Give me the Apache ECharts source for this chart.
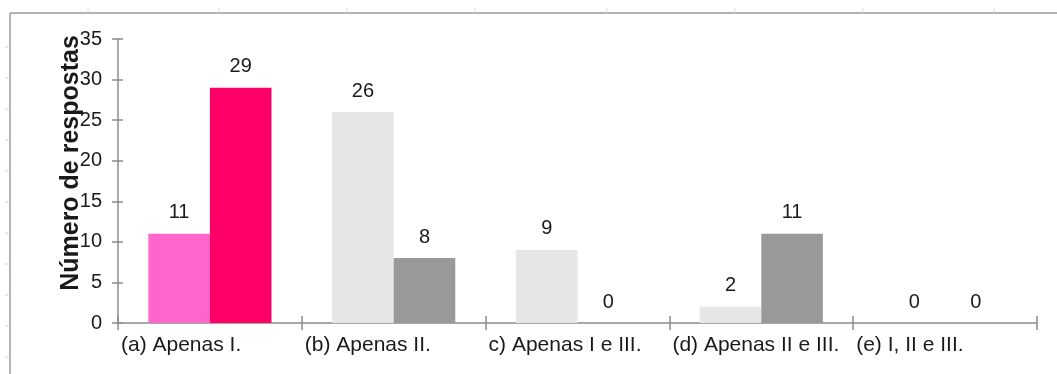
<!DOCTYPE html>
<html>
<head>
<meta charset="utf-8">
<script src="https://cdn.jsdelivr.net/npm/echarts@6/dist/echarts.min.js"></script>
<style>
  html, body { margin: 0; padding: 0; background: #fff; }
  #chart { width: 1057px; height: 374px; }
</style>
</head>
<body>
<div id="chart"></div>
<script>
// Categories (answer options) and counts for the two groups of respondents
const categories = ['(a) Apenas I.', '(b) Apenas II.', 'c) Apenas I e III.', '(d) Apenas II e III.', '(e) I, II e III.'];
const seriesA = [11, 26, 9, 2, 0];
const seriesB = [29, 8, 0, 11, 0];
const yTicks = [0, 5, 10, 15, 20, 25, 30, 35];
const yTitle = 'Número de respostas';

// Per-category fills: the correct option is highlighted in pink
const coloursA = ['#FF66CC', '#E6E6E6', '#E6E6E6', '#E6E6E6', '#E6E6E6'];
const coloursB = ['#FF0066', '#999999', '#999999', '#999999', '#999999'];

const FONT = '"Liberation Sans", Arial, sans-serif';
const TEXT = '#1a1a1a';
const AXIS = '#8c8c8c';

const chart = echarts.init(document.getElementById('chart'), null, { renderer: 'canvas' });

function items(values, colours) {
  return values.map((v, i) => ({ value: v, itemStyle: { color: colours[i] } }));
}

const labelStyle = {
  show: true, position: 'top', distance: 11,
  fontFamily: FONT, fontSize: 20, color: TEXT
};

// Faint ruler marks around the frame
const rulerMarks = [];
[88, 219, 347, 475, 607, 735, 863, 994].forEach(x => {
  rulerMarks.push({ type: 'line', shape: { x1: x, y1: 8, x2: x, y2: 13 }, style: { stroke: '#dedede', lineWidth: 1 } });
});
for (let y = 47; y < 374; y += 31) {
  rulerMarks.push({ type: 'line', shape: { x1: 5, y1: y, x2: 10, y2: y }, style: { stroke: '#d4d4d4', lineWidth: 1 } });
}

const option = {
  animation: false,
  backgroundColor: '#ffffff',
  grid: { left: 118, right: 20, top: 39, bottom: 51, containLabel: false },
  xAxis: [
    {
      type: 'category', data: categories, boundaryGap: true, position: 'bottom',
      axisLine: { lineStyle: { color: AXIS, width: 1.5 } },
      axisTick: { show: true, length: 7, alignWithLabel: false, lineStyle: { color: AXIS, width: 1.5 } },
      axisLabel: { show: false }
    },
    {
      // boundary-aligned axis carrying the left-aligned labels and inner tick halves
      type: 'category', data: categories.concat(['']), boundaryGap: false, position: 'bottom',
      axisLine: { show: false },
      axisTick: { show: true, inside: true, length: 7, lineStyle: { color: AXIS, width: 1.5 } },
      axisLabel: { show: true, interval: 0, align: 'left', margin: 12, padding: [0, 0, 0, 3],
                   fontFamily: FONT, fontSize: 21, color: TEXT }
    }
  ],
  yAxis: [
    {
      type: 'value', min: yTicks[0], max: yTicks[yTicks.length - 1], interval: 5,
      axisLine: { show: true, lineStyle: { color: AXIS, width: 1.5 } },
      axisTick: { show: true, length: 6, lineStyle: { color: AXIS, width: 1.5 } },
      axisLabel: { margin: 16, fontFamily: FONT, fontSize: 20, color: TEXT },
      splitLine: { show: false }
    },
    {
      type: 'value', min: yTicks[0], max: yTicks[yTicks.length - 1], interval: 5, position: 'left',
      axisLine: { show: false },
      axisTick: { show: true, inside: true, length: 5, lineStyle: { color: AXIS, width: 1.5 } },
      axisLabel: { show: false },
      splitLine: { show: false }
    }
  ],
  series: [
    {
      type: 'bar', xAxisIndex: 0, yAxisIndex: 0,
      data: items(seriesA, coloursA),
      barGap: '0%', barCategoryGap: '33%',
      label: labelStyle
    },
    {
      type: 'bar', xAxisIndex: 0, yAxisIndex: 0,
      data: items(seriesB, coloursB),
      barGap: '0%', barCategoryGap: '33%',
      label: labelStyle
    }
  ],
  graphic: [
    // outer frame (top and left edges)
    { type: 'line', shape: { x1: 10, y1: 13, x2: 1057, y2: 13 }, style: { stroke: '#9a9a9a', lineWidth: 1.5 } },
    { type: 'line', shape: { x1: 10, y1: 13, x2: 10, y2: 374 }, style: { stroke: '#9a9a9a', lineWidth: 1.5 } },
    ...rulerMarks,
    {
      type: 'text', x: 71, y: 163, rotation: Math.PI / 2, z: 10,
      style: { text: yTitle, fontFamily: FONT, fontWeight: 'bold', fontSize: 25,
               fill: TEXT, align: 'center', verticalAlign: 'middle' }
    }
  ]
};

chart.setOption(option);
</script>
</body>
</html>
